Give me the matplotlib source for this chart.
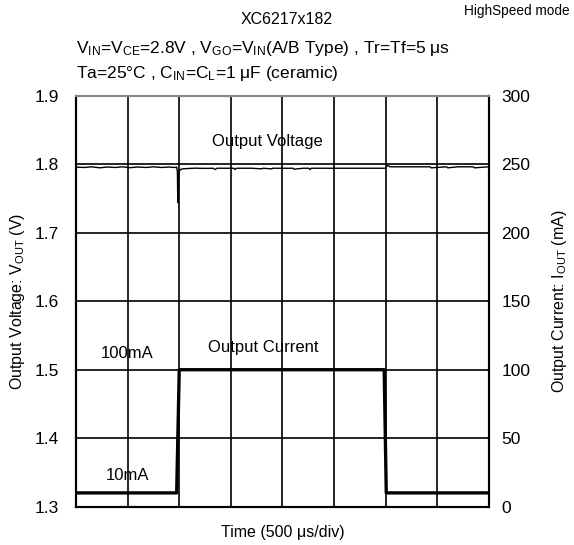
import matplotlib
matplotlib.use("Agg")
import matplotlib.pyplot as plt

plt.rcParams["font.family"] = ["Liberation Sans", "Noto Sans CJK JP", "DejaVu Sans"]
plt.rcParams["mathtext.fontset"] = "custom"
plt.rcParams["mathtext.rm"] = "Liberation Sans"
plt.rcParams["mathtext.it"] = "Liberation Sans"

# time in microseconds, 500 us per division
time_ticks = [0, 500, 1000, 1500, 2000, 2500, 3000, 3500, 4000]
volt_ticks = [1.3, 1.4, 1.5, 1.6, 1.7, 1.8, 1.9]
curr_ticks = [0, 50, 100, 150, 200, 250, 300]

# output current step (mA)
curr_t = [0, 975, 1000, 2985, 3005, 4000]
curr_ma = [10, 10, 100, 100, 10, 10]

# output voltage trace (V)
volt_t = [0, 80, 150, 230, 300, 380, 450, 520, 600, 680, 750, 830, 900, 950,
          975, 982, 986, 990, 995, 1005, 1030, 1080, 1150, 1250, 1330, 1347,
          1365, 1500, 1530, 1541, 1555, 1700, 1802, 1810, 1899, 1905, 2000,
          2103, 2110, 2200, 2255, 2267, 2280, 2400, 2600, 2800, 2985, 2995,
          3005, 3023, 3040, 3200, 3430, 3440, 3590, 3600, 3700, 3847, 3860, 4000]
volt_v = [1.796, 1.7955, 1.7965, 1.795, 1.7962, 1.7955, 1.7965, 1.7952, 1.7962, 1.7955,
          1.7965, 1.7955, 1.7962, 1.7955,
          1.796, 1.790, 1.744, 1.752, 1.785, 1.792, 1.7935, 1.794, 1.7945, 1.7942, 1.7944, 1.7925,
          1.7944, 1.7944, 1.7944, 1.7925, 1.7944, 1.7944, 1.7935, 1.7944, 1.7935, 1.7944, 1.7944,
          1.7944, 1.793, 1.7944, 1.7944, 1.7925, 1.7944, 1.7944, 1.7944, 1.7944, 1.7944, 1.7945,
          1.7965, 1.7985, 1.7965, 1.7965, 1.7965, 1.795, 1.7965, 1.795, 1.7965, 1.7965, 1.795, 1.7965]

fig = plt.figure(figsize=(5.74, 5.45), dpi=100)
ax = fig.add_axes([0.1324, 0.0705, 0.7195, 0.7534])
ax2 = ax.twinx()

ax.set_xlim(0, 4000)
ax.set_ylim(1.3, 1.9)
ax2.set_ylim(0, 300)
ax.set_xticks(time_ticks)
ax.set_xticklabels([])
ax.set_yticks(volt_ticks)
ax.set_yticklabels([f"{v:.1f}" for v in volt_ticks])
ax2.set_yticks(curr_ticks)
ax2.set_yticklabels([str(c) for c in curr_ticks])

ax.grid(True, color="black", linewidth=1.2)
ax.tick_params(length=0, labelsize=12.5, pad=12)
ax2.tick_params(length=0, labelsize=12.5, pad=9)
for a in (ax, ax2):
    for s in a.spines.values():
        s.set_linewidth(1.5)
    a.spines["top"].set_color("#888888")

ax.plot(volt_t, volt_v, color="black", linewidth=1.0, zorder=3)
ax2.plot(curr_t, curr_ma, color="black", linewidth=2.4, zorder=3)

ax.text(1850, 1.822, "Output Voltage", ha="center", va="bottom", fontsize=12)
ax.text(1815, 1.522, "Output Current", ha="center", va="bottom", fontsize=12)
ax.text(500, 1.513, "100mA", ha="center", va="bottom", fontsize=12)
ax.text(500, 1.335, "10mA", ha="center", va="bottom", fontsize=12)

ax.set_ylabel(r"Output Voltage: V$_{\rm OUT}$ (V)", fontsize=11.5, labelpad=6)
ax2.set_ylabel(r"Output Current: I$_{\rm OUT}$ (mA)", fontsize=11.5, labelpad=14)
ax.set_xlabel("Time (500 μs/div)", fontsize=11.5, va="center")
ax.xaxis.set_label_coords(0.5, -0.062)

fig.text(0.5, 0.978, "XC6217x182", ha="center", va="top", fontsize=11.5)
fig.text(0.993, 0.992, "HighSpeed mode", ha="right", va="top", fontsize=9.8)
fig.text(0.1324, 0.893, r"V$_{\rm IN}$=V$_{\rm CE}$=2.8V , V$_{\rm GO}$=V$_{\rm IN}$(A/B Type) , Tr=Tf=5 μs",
         ha="left", va="bottom", fontsize=12.5)
fig.text(0.1324, 0.847, r"Ta=25°C , C$_{\rm IN}$=C$_{\rm L}$=1 μF (ceramic)",
         ha="left", va="bottom", fontsize=12.5)

fig.savefig("out.png", dpi=100)
